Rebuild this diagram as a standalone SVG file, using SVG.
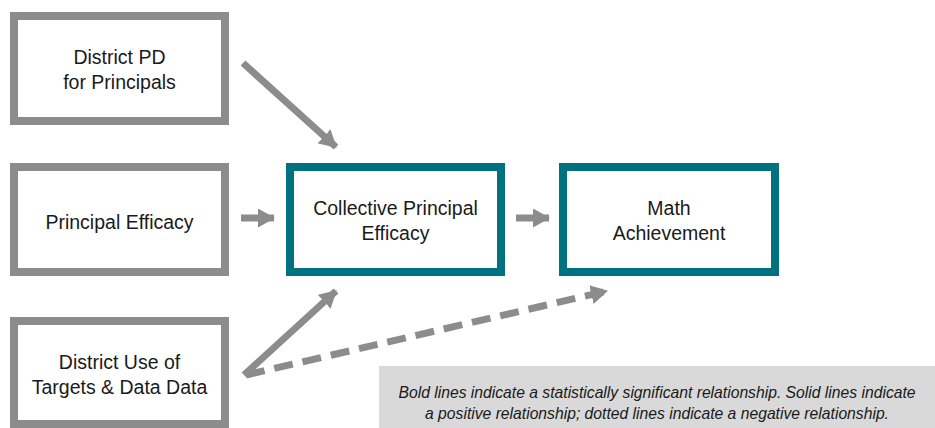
<svg xmlns="http://www.w3.org/2000/svg" width="935" height="428" viewBox="0 0 935 428">
  <defs>
    <style>
      .gbox { fill: #ffffff; stroke: #8c8c8c; stroke-width: 8; }
      .tbox { fill: #ffffff; stroke: #00717f; stroke-width: 8; }
      .lbl { font-family: "Liberation Sans", Arial, sans-serif; font-size: 19.5px; fill: #1a1a1a; text-anchor: middle; }
      .cap { font-family: "Liberation Sans", Arial, sans-serif; font-size: 15.7px; font-style: italic; fill: #1a1a1a; text-anchor: middle; }
      .arr { stroke: #8c8c8c; stroke-width: 7; fill: none; marker-end: url(#ah); }
      .dash { stroke-dasharray: 19 10; }
    </style>
    <marker id="ah" markerUnits="userSpaceOnUse" markerWidth="17" markerHeight="19" refX="16" refY="9.5" orient="auto">
      <path d="M0,0 L17,9.5 L0,19 Z" fill="#8c8c8c"/>
    </marker>
  </defs>

  <g id="connectors">
    <line class="arr" x1="243" y1="63" x2="336" y2="147"/>
    <line class="arr" x1="241" y1="218" x2="274" y2="218"/>
    <line class="arr" x1="516" y1="218" x2="549" y2="218"/>
    <line class="arr" x1="244" y1="375" x2="336" y2="291"/>
    <line class="arr dash" x1="246" y1="375" x2="607" y2="291"/>
  </g>

  <g id="district-pd">
    <rect class="gbox" x="14" y="16" width="211" height="105"/>
    <text class="lbl" x="119.5" y="63.5">District PD</text>
    <text class="lbl" x="119.5" y="88.5">for Principals</text>
  </g>

  <g id="principal-efficacy">
    <rect class="gbox" x="14" y="167" width="211" height="105"/>
    <text class="lbl" x="119.5" y="228.5">Principal Efficacy</text>
  </g>

  <g id="district-use">
    <rect class="gbox" x="14" y="321" width="211" height="103"/>
    <text class="lbl" x="119.5" y="369">District Use of</text>
    <text class="lbl" x="119.5" y="394">Targets &amp; Data Data</text>
  </g>

  <g id="collective-efficacy">
    <rect class="tbox" x="290" y="167" width="211" height="105"/>
    <text class="lbl" x="395.5" y="214.5">Collective Principal</text>
    <text class="lbl" x="395.5" y="239.5">Efficacy</text>
  </g>

  <g id="math-achievement">
    <rect class="tbox" x="563" y="167" width="212" height="105"/>
    <text class="lbl" x="669" y="214.5">Math</text>
    <text class="lbl" x="669" y="239.5">Achievement</text>
  </g>

  <g id="caption">
    <rect x="379" y="366" width="556" height="62" fill="#d9d9d9"/>
    <text class="cap" x="657" y="397.5">Bold lines indicate a statistically significant relationship. Solid lines indicate</text>
    <text class="cap" x="657" y="419">a positive relationship; dotted lines indicate a negative relationship.</text>
  </g>
</svg>
